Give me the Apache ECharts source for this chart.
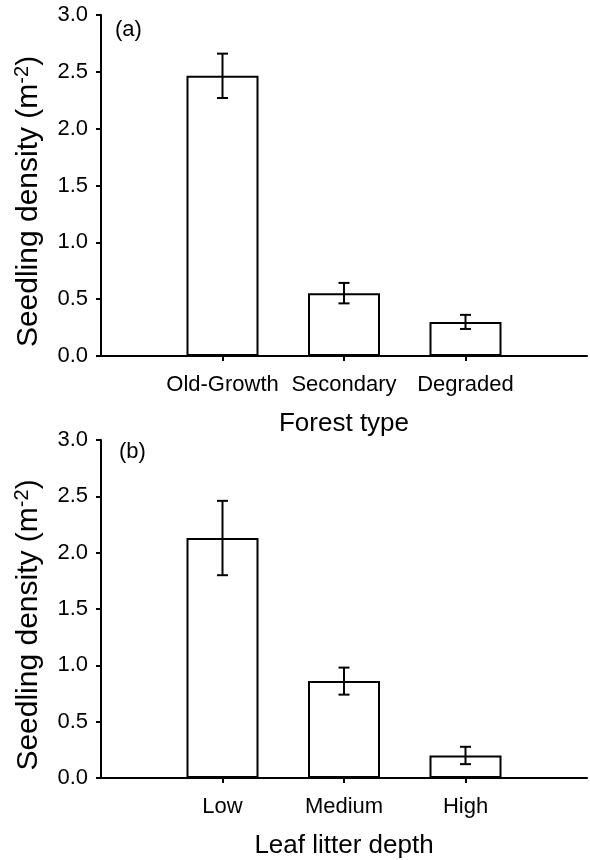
<!DOCTYPE html>
<html>
<head>
<meta charset="utf-8">
<script src="https://cdn.jsdelivr.net/npm/echarts@6/dist/echarts.min.js"></script>
<style>
  html, body { margin: 0; padding: 0; background: #fff; }
  #chart { width: 590px; height: 860px; }
</style>
</head>
<body>
<div id="chart"></div>
<script>
// panel (a): forest type
const forestTypes = ['Old-Growth', 'Secondary', 'Degraded'];
const forestMeans = [2.465, 0.553, 0.30];
const forestErr = [0.195, 0.09, 0.062];
// panel (b): leaf litter depth
const litterLevels = ['Low', 'Medium', 'High'];
const litterMeans = [2.13, 0.86, 0.20];
const litterErr = [0.33, 0.12, 0.077];
const yTicks = [0, 0.5, 1.0, 1.5, 2.0, 2.5, 3.0];

const FONT = '"Liberation Sans", Arial, Helvetica, sans-serif';
const chart = echarts.init(document.getElementById('chart'), null, { renderer: 'canvas' });

// empty slots at both ends so the three bars sit on the inner points of the axis
const pad = (arr, fill) => [fill].concat(arr, [fill]);

function errorBars(gridIdx, means, errs){
  return {
    type: 'custom',
    xAxisIndex: gridIdx, yAxisIndex: gridIdx,
    z: 5,
    data: means.map((m, i) => [i + 1, m - errs[i], m + errs[i]]),
    renderItem: (params, api) => {
      const lo = api.coord([api.value(0), api.value(1)]);
      const hi = api.coord([api.value(0), api.value(2)]);
      const w = 5.5;
      const st = { stroke: '#000', lineWidth: 2, fill: null };
      return {
        type: 'group',
        children: [
          { type: 'line', shape: { x1: lo[0], y1: lo[1], x2: hi[0], y2: hi[1] }, style: st },
          { type: 'line', shape: { x1: hi[0] - w, y1: hi[1], x2: hi[0] + w, y2: hi[1] }, style: st },
          { type: 'line', shape: { x1: lo[0] - w, y1: lo[1], x2: lo[0] + w, y2: lo[1] }, style: st }
        ]
      };
    }
  };
}

function xAx(gridIdx, cats, name){
  return {
    type: 'category', gridIndex: gridIdx,
    data: pad(cats, ''),
    boundaryGap: false,
    name: name, nameLocation: 'middle', nameGap: 55,
    nameTextStyle: { fontFamily: FONT, fontSize: 26, color: '#000' },
    axisLine: { lineStyle: { color: '#000', width: 2 } },
    axisTick: { length: 5, lineStyle: { color: '#000', width: 2 }, interval: (i) => i > 0 && i < cats.length + 1 },
    axisLabel: { fontFamily: FONT, fontSize: 22, color: '#000', margin: 18, interval: 0 },
    splitLine: { show: false }
  };
}

function yAx(gridIdx){
  return {
    type: 'value', gridIndex: gridIdx,
    min: yTicks[0], max: yTicks[yTicks.length - 1], interval: 0.5,
    name: '{a|Seedling density (m}{s|-2}{a|)}',
    nameLocation: 'middle', nameGap: 55, nameRotate: 90,
    nameTextStyle: {
      padding: [0, 32, 0, 0],
      rich: {
        a: { fontFamily: FONT, fontSize: 30, color: '#000', lineHeight: 34 },
        s: { fontFamily: FONT, fontSize: 20, color: '#000', verticalAlign: 'top', lineHeight: 34, padding: [0, 0, 10, 0] }
      }
    },
    axisLine: { show: true, lineStyle: { color: '#000', width: 2 } },
    axisTick: { show: true, length: 5, lineStyle: { color: '#000', width: 2 } },
    axisLabel: { fontFamily: FONT, fontSize: 22, color: '#000', margin: 13, formatter: (v) => v.toFixed(1) },
    splitLine: { show: false }
  };
}

function bars(gridIdx, means){
  return {
    type: 'bar', xAxisIndex: gridIdx, yAxisIndex: gridIdx,
    data: pad(means, '-'),
    barWidth: 72,
    itemStyle: { color: '#fff', borderColor: '#000', borderWidth: 2 },
    silent: true
  };
}

chart.setOption({
  animation: false,
  backgroundColor: '#fff',
  grid: [
    { left: 101, right: 0, top: 15, height: 341 },
    { left: 101, right: 0, top: 440, height: 341 }
  ],
  xAxis: [xAx(0, forestTypes, 'Forest type'), xAx(1, litterLevels, 'Leaf litter depth')],
  yAxis: [yAx(0), yAx(1)],
  graphic: [
    { type: 'text', left: 115, top: 19, style: { text: '(a)', fontFamily: FONT, fontSize: 22, fill: '#000' } },
    { type: 'text', left: 119, top: 441, style: { text: '(b)', fontFamily: FONT, fontSize: 22, fill: '#000' } }
  ],
  series: [
    bars(0, forestMeans), errorBars(0, forestMeans, forestErr),
    bars(1, litterMeans), errorBars(1, litterMeans, litterErr)
  ]
});
</script>
</body>
</html>
